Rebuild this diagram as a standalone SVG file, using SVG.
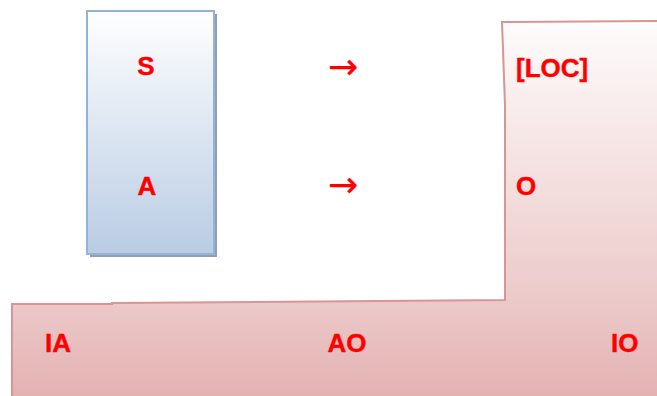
<svg xmlns="http://www.w3.org/2000/svg" width="657" height="396" viewBox="0 0 657 396">
  <defs>
    <linearGradient id="blueFill" x1="0" y1="0" x2="0" y2="1">
      <stop offset="0" stop-color="#ffffff"/>
      <stop offset="1" stop-color="#b9cce4"/>
    </linearGradient>
    <linearGradient id="pinkFill" gradientUnits="userSpaceOnUse" x1="0" y1="20" x2="0" y2="396">
      <stop offset="0" stop-color="#fefcfc"/>
      <stop offset="0.75" stop-color="#ecc9c9"/>
      <stop offset="1" stop-color="#e4b1b1"/>
    </linearGradient>
  </defs>
  <style>
    .lbl { font-family: "Liberation Sans", Arial, sans-serif; font-weight: bold; font-size: 26px; fill: #ff0000; stroke: #ff0000; stroke-width: 0.4; }
    .arr { font-family: "DejaVu Sans", sans-serif; font-size: 36px; fill: #ff0000; stroke: #ff0000; stroke-width: 0.3; }
  </style>

  <!-- outer L-shaped region, running off the bottom and right edges -->
  <g id="region">
    <path d="M12,400 L12,304 L112,304 L112,303 L505,300 L505,105 L502,22 L661,21 L661,400 Z"
          fill="url(#pinkFill)" stroke="#d99595" stroke-width="2"/>
    <text class="lbl" x="516" y="77">[LOC]</text>
    <text class="lbl" x="516" y="195">O</text>
    <text class="lbl" x="45" y="352">IA</text>
    <text class="lbl" x="347" y="352" text-anchor="middle">AO</text>
    <text class="lbl" x="611" y="352">IO</text>
  </g>

  <!-- inner column box with drop shadow -->
  <g id="box">
    <rect x="90" y="14" width="127" height="243" fill="#8fa0b6"/>
    <rect x="87" y="11" width="127" height="243" fill="url(#blueFill)" stroke="#95b3d7" stroke-width="2"/>
    <text class="lbl" x="146" y="75" text-anchor="middle">S</text>
    <text class="lbl" x="147" y="195" text-anchor="middle">A</text>
  </g>

  <!-- arrows -->
  <g id="connectors">
    <text class="arr" x="343" y="79" text-anchor="middle">→</text>
    <text class="arr" x="343" y="197" text-anchor="middle">→</text>
  </g>
</svg>
